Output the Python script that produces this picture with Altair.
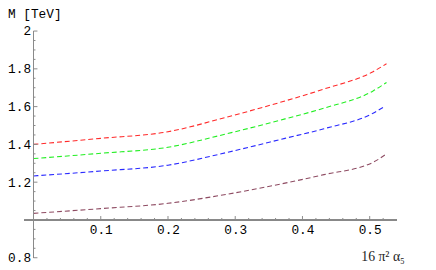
import altair as alt
import pandas as pd

# ---- data ----
x_pts = [0.0, 0.1, 0.2, 0.286, 0.374, 0.432, 0.505, 0.525]
x_blue = [0.0, 0.1, 0.2, 0.286, 0.374, 0.432, 0.505, 0.521]
red = [1.400, 1.432, 1.467, 1.543, 1.630, 1.693, 1.785, 1.827]
green = [1.325, 1.353, 1.385, 1.455, 1.535, 1.592, 1.683, 1.728]
blue = [1.233, 1.259, 1.290, 1.356, 1.432, 1.483, 1.565, 1.598]
brown = [1.035, 1.060, 1.088, 1.135, 1.195, 1.240, 1.305, 1.350]

series_names = ["red", "green", "blue", "brown"]
series_colors = ["#ff2a2a", "#22ee22", "#2a2aff", "#8e4b62"]

x_major = [0.1, 0.2, 0.3, 0.4, 0.5]
x_minor = [0.02, 0.04, 0.06, 0.08, 0.12, 0.14, 0.16, 0.18, 0.22, 0.24, 0.26,
           0.28, 0.32, 0.34, 0.36, 0.38, 0.42, 0.44, 0.46, 0.48, 0.52]
y_major = [0.8, 1.2, 1.4, 1.6, 1.8, 2.0]
y_minor = [0.85, 0.9, 0.95, 1.05, 1.1, 1.15, 1.25, 1.3, 1.35, 1.45, 1.5, 1.55,
           1.65, 1.7, 1.75, 1.85, 1.9, 1.95]

x_title = "16 π² α₅"
y_title = "M [TeV]"

# ---- build tables ----
rows = []
for name, xs_, ys_ in [("red", x_pts, red), ("green", x_pts, green),
                       ("blue", x_blue, blue), ("brown", x_pts, brown)]:
    for xv, yv in zip(xs_, ys_):
        rows.append({"series": name, "x": xv, "y": yv})
df = pd.DataFrame(rows)

xs = alt.Scale(domain=[0, 0.54], nice=False, zero=False)
ys = alt.Scale(domain=[0.8, 2.0], nice=False, zero=False)
AX = "#8a8a8a"

lines = alt.Chart(df).mark_line(
    strokeDash=[5, 3], strokeWidth=1.1, interpolate="monotone", clip=False
).encode(
    x=alt.X("x:Q", scale=xs, axis=alt.Axis(
        values=x_major, ticks=False, domain=False, grid=False, title=None,
        offset=-38.5, labelPadding=4, labelFont="Liberation Mono",
        labelFontSize=13, labelColor="#000", format=".1f")),
    y=alt.Y("y:Q", scale=ys, axis=alt.Axis(
        values=y_major, ticks=False, domain=False, grid=False, title=None,
        labelPadding=3, labelFont="Liberation Mono", labelFontSize=13,
        labelColor="#000", format=".1~f")),
    color=alt.Color("series:N", scale=alt.Scale(domain=series_names, range=series_colors),
                    legend=None),
    detail="series:N",
)

xaxis_line = alt.Chart(df).mark_rule(color=AX, strokeWidth=1).encode(
    x=alt.value(-9), x2=alt.value(370), y=alt.datum(1.0)
)
yaxis_line = alt.Chart(df).mark_rule(color=AX, strokeWidth=1).encode(
    x=alt.value(0), y=alt.datum(0.8), y2=alt.datum(2.0)
)

xmaj = alt.Chart(pd.DataFrame({"t": x_major})).mark_rule(color=AX, y2Offset=-4).encode(
    x=alt.X("t:Q", scale=xs), y=alt.datum(1.0), y2=alt.datum(1.0)
)
xmin = alt.Chart(pd.DataFrame({"t": x_minor})).mark_rule(color=AX, y2Offset=-2).encode(
    x=alt.X("t:Q", scale=xs), y=alt.datum(1.0), y2=alt.datum(1.0)
)
ymaj = alt.Chart(pd.DataFrame({"t": y_major})).mark_rule(color=AX).encode(
    y=alt.Y("t:Q", scale=ys), x=alt.value(0), x2=alt.value(4)
)
ymin = alt.Chart(pd.DataFrame({"t": y_minor})).mark_rule(color=AX).encode(
    y=alt.Y("t:Q", scale=ys), x=alt.value(0), x2=alt.value(2)
)

ytitle = alt.Chart(pd.DataFrame({"s": [y_title]})).mark_text(
    font="Liberation Mono", fontSize=13, align="left", baseline="middle", color="#000"
).encode(text="s:N", x=alt.value(-26), y=alt.value(-17))

xtitle = alt.Chart(pd.DataFrame({"s": [x_title]})).mark_text(
    font="Liberation Serif", fontSize=14, align="left", baseline="alphabetic", color="#222"
).encode(text="s:N", x=alt.value(334), y=alt.value(234))

chart = alt.layer(
    lines, xaxis_line, yaxis_line, xmaj, xmin, ymaj, ymin, ytitle, xtitle
).properties(
    width=370, height=231,
    autosize=alt.AutoSizeParams(type="none"),
    padding={"left": 26, "top": 21, "right": 32, "bottom": 10},
).configure_view(stroke=None)

chart.save("out.html", embed_options={"renderer": "svg", "actions": False})
